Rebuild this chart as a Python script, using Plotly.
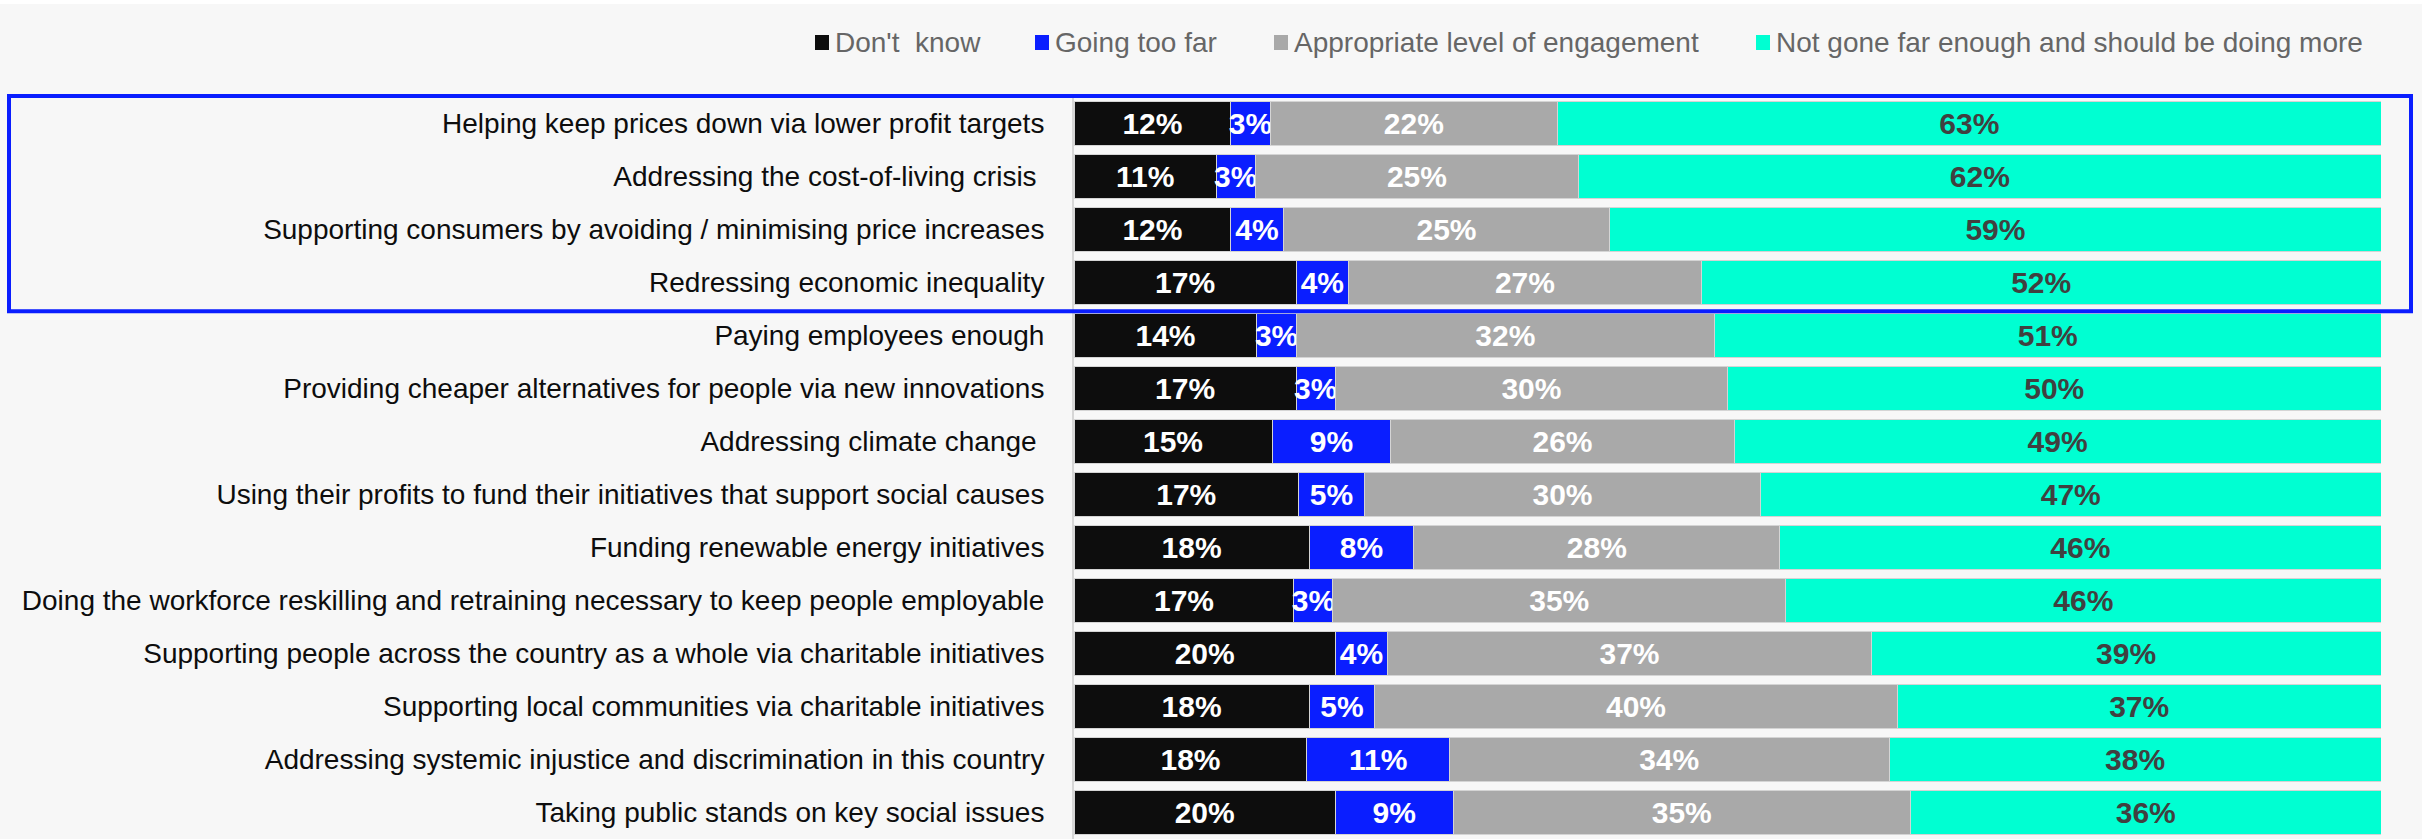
import plotly.graph_objects as go

# Survey statements (top to bottom)
statements = [
    "Helping keep prices down via lower profit targets",
    "Addressing the cost-of-living crisis ",
    "Supporting consumers by avoiding / minimising price increases",
    "Redressing economic inequality",
    "Paying employees enough",
    "Providing cheaper alternatives for people via new innovations",
    "Addressing climate change ",
    "Using their profits to fund their initiatives that support social causes",
    "Funding renewable energy initiatives",
    "Doing the workforce reskilling and retraining necessary to keep people employable",
    "Supporting people across the country as a whole via charitable initiatives",
    "Supporting local communities via charitable initiatives",
    "Addressing systemic injustice and discrimination in this country",
    "Taking public stands on key social issues",
]

# Response shares (%) per statement
dont_know = [12, 11, 12, 17, 14, 17, 15, 17, 18, 17, 20, 18, 18, 20]
too_far = [3, 3, 4, 4, 3, 3, 9, 5, 8, 3, 4, 5, 11, 9]
appropriate = [22, 25, 25, 27, 32, 30, 26, 30, 28, 35, 37, 40, 34, 35]
not_far_enough = [63, 62, 59, 52, 51, 50, 49, 47, 46, 46, 39, 37, 38, 36]

series_names = [
    "Don't  know",
    "Going too far",
    "Appropriate level of engagement",
    "Not gone far enough and should be doing more",
]
series_values = [dont_know, too_far, appropriate, not_far_enough]
bar_colors = ["#0d0d0d", "#0a1eff", "#a9a9a9", "#00ffd2"]
label_colors = ["#ffffff", "#ffffff", "#ffffff", "#404040"]

W, H = 2422, 839
L, R, T, B = 1074, 41, 94, 0
PW, PH = W - L - R, H - T - B


def px_x(px):
    return (px - L) / PW


def px_y(py):
    return 1 - (py - T) / PH


fig = go.Figure()
for name, vals, color, tcolor in zip(series_names, series_values, bar_colors, label_colors):
    fig.add_trace(go.Bar(
        y=statements,
        x=vals,
        name=name,
        orientation="h",
        marker=dict(color=color, line=dict(color="#d4d4d4", width=1)),
        text=[f"{v}%" for v in vals],
        textposition="inside",
        insidetextanchor="middle",
        textangle=0,
        constraintext="none",
        insidetextfont=dict(family="Liberation Sans, Arial", size=30, color=tcolor, weight="bold"),
        hoverinfo="skip",
        showlegend=False,
    ))

row_pitch = PH / len(statements)
first_center = T + row_pitch / 2


def row_coord(py):
    return (py - first_center) / row_pitch


# Highlight frame around the four cost-related statements
fig.add_shape(
    type="rect", xref="paper", yref="y",
    x0=px_x(9), x1=px_x(2411),
    y0=row_coord(93), y1=row_coord(309),
    line=dict(color="#0a1eff", width=4),
    fillcolor="rgba(0,0,0,0)",
    layer="above",
)
# Thin white band along the top edge
fig.add_shape(
    type="rect", xref="paper", yref="paper",
    x0=px_x(0), x1=px_x(W), y0=px_y(4), y1=px_y(0),
    line=dict(width=0), fillcolor="#ffffff", layer="below",
)

# Legend row: colour swatch followed by its series name
legend_swatch_left = [815, 1035, 1274, 1756]
for name, color, left in zip(series_names, bar_colors, legend_swatch_left):
    fig.add_shape(
        type="rect", xref="paper", yref="paper",
        x0=px_x(left), x1=px_x(left + 14),
        y0=px_y(50), y1=px_y(35),
        line=dict(width=0), fillcolor=color,
    )
    fig.add_annotation(
        xref="paper", yref="paper",
        x=px_x(left + 19), y=px_y(43),
        xanchor="left", yanchor="middle",
        text=name, showarrow=False,
        font=dict(family="Liberation Sans, Arial", size=28, color="#666666"),
        borderpad=0,
    )

fig.update_layout(
    width=W, height=H,
    barmode="stack",
    barnorm="percent",
    bargap=0.165,
    paper_bgcolor="#f7f7f7",
    plot_bgcolor="#f7f7f7",
    margin=dict(l=L, r=R, t=T, b=B, pad=0, autoexpand=False),
    font=dict(family="Liberation Sans, Arial", size=28, color="#0d0d0d"),
    showlegend=False,
    xaxis=dict(
        range=[0, 100], showgrid=False, zeroline=False,
        showticklabels=False, showline=False, fixedrange=True,
    ),
    yaxis=dict(
        autorange="reversed", showgrid=False, zeroline=False,
        showline=True, linecolor="#d6d6d6", linewidth=2,
        ticks="", ticklabelstandoff=22,
        tickfont=dict(size=28, color="#0d0d0d"),
        fixedrange=True,
    ),
)

fig.write_html("out.html")
